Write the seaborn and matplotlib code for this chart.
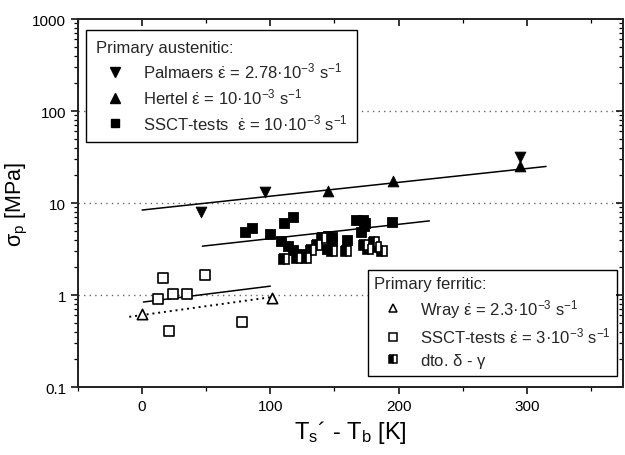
import matplotlib
matplotlib.use('Agg')
import matplotlib.pyplot as plt
from matplotlib.lines import Line2D
from matplotlib.ticker import FixedLocator, FuncFormatter, LogLocator, NullFormatter
import numpy as np
import pandas as pd
import seaborn as sns

# primary austenitic
palmaers_x = [46, 96, 295]
palmaers_y = [8.0, 13.1, 31.5]
hertel_x = [145, 196, 295]
hertel_y = [13.4, 17.4, 25.3]
ssct_a_x = [80, 86, 100, 108, 111, 114, 118, 118, 123, 144, 145, 148, 148, 160,
            167, 172, 173, 174, 171, 195]
ssct_a_y = [4.9, 5.4, 4.6, 3.9, 6.1, 3.4, 3.1, 7.0, 2.8, 3.2, 4.4, 3.9, 4.3, 4.0,
            6.6, 6.6, 5.7, 6.0, 4.8, 6.2]

# primary ferritic
wray_x = [0, 101]
wray_y = [0.62, 0.93]
ssct_f_x = [12, 16, 21, 24, 35, 49, 78]
ssct_f_y = [0.91, 1.53, 0.41, 1.02, 1.02, 1.65, 0.51]
dto_x = [111, 121, 128, 132, 136, 140, 148, 159, 173, 176, 181, 182, 187]
dto_y = [2.46, 2.5, 2.5, 3.1, 3.5, 4.2, 3.0, 3.0, 3.5, 3.2, 3.8, 3.3, 3.0]

# regression lines (end points)
fit_pal_x, fit_pal_y = [0, 315], [8.4, 25.0]
fit_ssct_a_x, fit_ssct_a_y = [47, 224], [3.4, 6.4]
fit_ssct_f_x, fit_ssct_f_y = [1, 100], [0.84, 1.25]
fit_wray_x, fit_wray_y = [-10, 101], [0.58, 0.95]

sns.set_theme(style='white')
plt.rcParams['font.family'] = ['Liberation Sans', 'DejaVu Sans']
plt.rcParams['mathtext.fontset'] = 'custom'
plt.rcParams['mathtext.rm'] = 'Liberation Sans'
plt.rcParams['mathtext.it'] = 'Liberation Sans'
plt.rcParams['mathtext.bf'] = 'Liberation Sans:bold'

fig = plt.figure(figsize=(6.25, 4.56), dpi=100)
ax = fig.add_axes([0.1248, 0.149, 0.8720, 0.807])
ax.set_yscale('log')

for y in [1, 10, 100]:
    ax.axhline(y, color='#666666', lw=1.0, ls=(0, (1, 3)), zorder=0)

lk = dict(color='black', lw=1.1, zorder=2)
sns.lineplot(x=fit_pal_x, y=fit_pal_y, ax=ax, **lk)
sns.lineplot(x=fit_ssct_a_x, y=fit_ssct_a_y, ax=ax, **lk)
sns.lineplot(x=fit_ssct_f_x, y=fit_ssct_f_y, ax=ax, **lk)
sns.lineplot(x=fit_wray_x, y=fit_wray_y, ax=ax, color='black', lw=1.4,
             linestyle=(0, (1, 2)), zorder=2)

sns.scatterplot(x=palmaers_x, y=palmaers_y, marker='v', s=60, color='black',
                edgecolor='black', ax=ax, zorder=3)
sns.scatterplot(x=hertel_x, y=hertel_y, marker='^', s=60, color='black',
                edgecolor='black', ax=ax, zorder=3)
sns.scatterplot(x=ssct_a_x, y=ssct_a_y, marker='s', s=55, color='black',
                edgecolor='black', ax=ax, zorder=3)
sns.scatterplot(x=wray_x, y=wray_y, marker='^', s=55, facecolor='white',
                edgecolor='black', linewidth=1.2, ax=ax, zorder=3)
sns.scatterplot(x=ssct_f_x, y=ssct_f_y, marker='s', s=55, facecolor='white',
                edgecolor='black', linewidth=1.2, ax=ax, zorder=3)
ax.plot(dto_x, dto_y, ls='', marker='s', ms=7.5, fillstyle='left',
        markerfacecolor='black', markerfacecoloralt='white',
        markeredgecolor='black', markeredgewidth=1.2, zorder=3)

ax.set_xlim(-50, 375)
ax.set_ylim(0.1, 1000)

ax.xaxis.set_major_locator(FixedLocator([0, 100, 200, 300]))
ax.xaxis.set_minor_locator(FixedLocator([-50, 50, 150, 250, 350]))
ax.yaxis.set_major_locator(LogLocator(base=10, numticks=10))
ax.yaxis.set_minor_locator(LogLocator(base=10, subs=np.arange(2, 10), numticks=20))
ax.yaxis.set_major_formatter(FuncFormatter(lambda v, p: '%g' % v))
ax.yaxis.set_minor_formatter(NullFormatter())
ax.tick_params(which='major', direction='out', length=5, width=1.1,
               labelsize=11, color='black', labelcolor='black')
ax.tick_params(which='minor', direction='out', length=3, width=0.9, color='black')
ax.tick_params(axis='both', which='both', bottom=True, left=True)

for s in ax.spines.values():
    s.set_color('black')
    s.set_linewidth(1.2)

# mirrored ticks on top and right
axt = ax.twiny()
axt.set_xlim(ax.get_xlim())
axt.xaxis.set_major_locator(FixedLocator([0, 100, 200, 300]))
axt.xaxis.set_minor_locator(FixedLocator([-50, 50, 150, 250, 350]))
axt.tick_params(which='both', direction='in', top=True, labeltop=False, color='black')
axt.tick_params(which='major', length=5, width=1.1)
axt.tick_params(which='minor', length=3, width=0.9)
axr = ax.twinx()
axr.set_yscale('log')
axr.set_ylim(ax.get_ylim())
axr.yaxis.set_major_locator(LogLocator(base=10, numticks=10))
axr.yaxis.set_minor_locator(LogLocator(base=10, subs=np.arange(2, 10), numticks=20))
axr.tick_params(which='both', direction='in', right=True, labelright=False, color='black')
axr.tick_params(which='major', length=5, width=1.1)
axr.tick_params(which='minor', length=3, width=0.9)
axr.grid(False)
axt.grid(False)

ax.set_xlabel(r"T$_\mathrm{s}$´ - T$_\mathrm{b}$ [K]", fontsize=17, color='black', labelpad=4)
ax.set_ylabel(r"$\mathrm{\sigma}_\mathrm{p}$ [MPa]", fontsize=15.5, color='black')
ax.yaxis.set_label_coords(-0.088, 0.5)

edot = r"$\dot{\mathrm{\varepsilon}}$"
h_aus = [
    Line2D([], [], ls='', marker='v', ms=7, color='black'),
    Line2D([], [], ls='', marker='^', ms=7, color='black'),
    Line2D([], [], ls='', marker='s', ms=6, color='black'),
]
l_aus = [
    "Palmaers " + edot + r" = 2.78·10$^{-3}$ s$^{-1}$",
    "Hertel " + edot + r" = 10·10$^{-3}$ s$^{-1}$",
    "SSCT-tests  " + edot + r" = 10·10$^{-3}$ s$^{-1}$",
]
h_fer = [
    Line2D([], [], ls='', marker='^', ms=6, markerfacecolor='white', markeredgecolor='black', mew=1.1),
    Line2D([], [], ls='', marker='s', ms=6, markerfacecolor='white', markeredgecolor='black', mew=1.1),
    Line2D([], [], ls='', marker='s', ms=6, fillstyle='left', markerfacecolor='black',
           markerfacecoloralt='white', markeredgecolor='black', mew=1.1),
]
l_fer = [
    "Wray " + edot + r" = 2.3·10$^{-3}$ s$^{-1}$",
    "SSCT-tests " + edot + r" = 3·10$^{-3}$ s$^{-1}$",
    r"dto. $\mathrm{\delta}$ - $\mathrm{\gamma}$",
]

legk = dict(fontsize=12, title_fontsize=12, frameon=True, fancybox=False,
            edgecolor='black', framealpha=1, borderaxespad=0, handlelength=2.3,
            handletextpad=0.5, labelspacing=0.35, alignment='left')
leg1 = ax.legend(h_aus, l_aus, title='Primary austenitic:', loc='upper left',
                 bbox_to_anchor=(0.0147, 0.970), borderpad=0.6, **legk)
leg1.get_frame().set_linewidth(1.0)
ax.add_artist(leg1)
leg2 = ax.legend(h_fer, l_fer, title='Primary ferritic:', loc='lower right',
                 bbox_to_anchor=(0.989, 0.030), borderpad=0.35, **legk)
leg2.get_frame().set_linewidth(1.0)
leg1.set_zorder(10)
leg2.set_zorder(10)

fig.savefig('out.png', dpi=100)
